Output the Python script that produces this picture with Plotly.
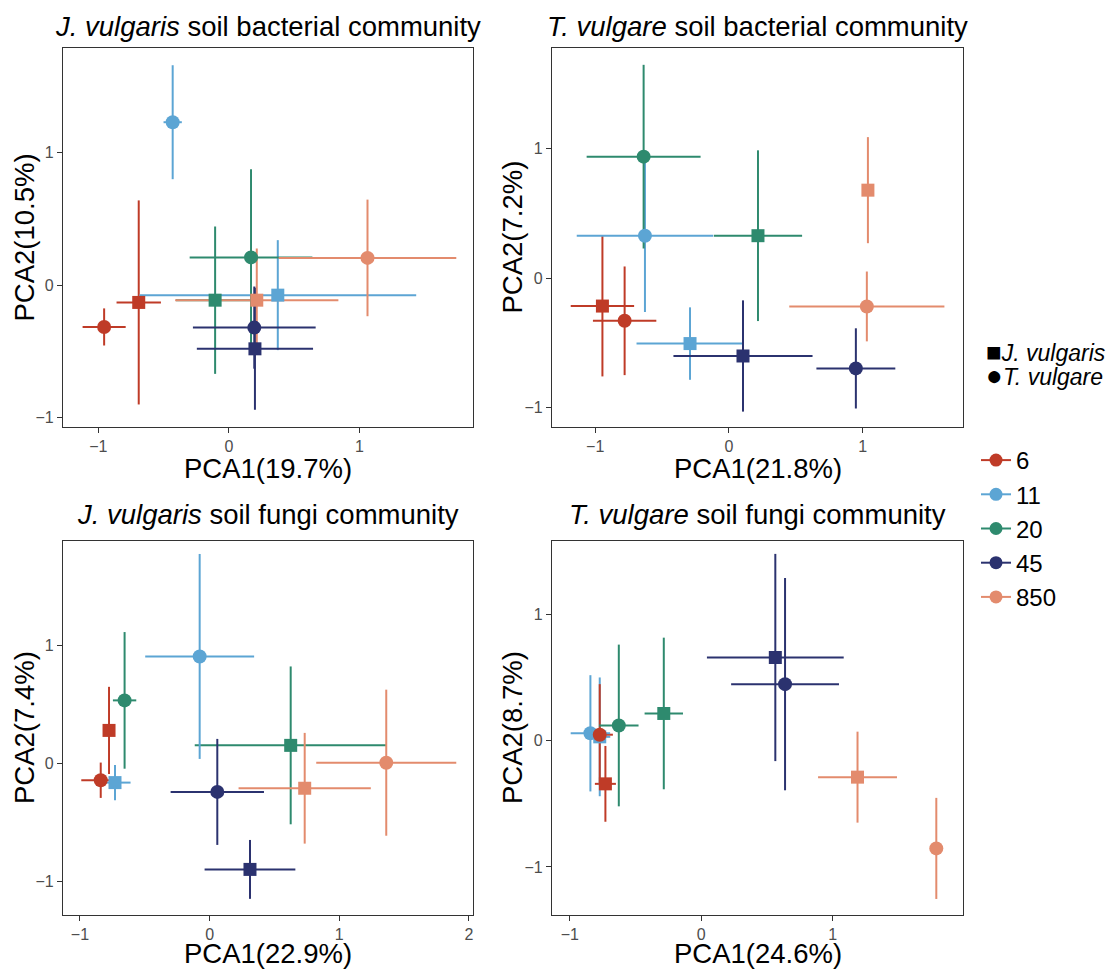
import plotly.graph_objects as go

FONT = "Liberation Sans, Arial, sans-serif"

groups = ["6", "11", "20", "45", "850"]
colors = ["#BF3B27", "#5CA5D4", "#2E8A6E", "#2B326F", "#E38B6D"]

titles = [
    "<i>J. vulgaris</i> soil bacterial community",
    "<i>T. vulgare</i> soil bacterial community",
    "<i>J. vulgaris</i> soil fungi community",
    "<i>T. vulgare</i> soil fungi community",
]
xlabels = ["PCA1(19.7%)", "PCA1(21.8%)", "PCA1(22.9%)", "PCA1(24.6%)"]
ylabels = ["PCA2(10.5%)", "PCA2(7.2%)", "PCA2(7.4%)", "PCA2(8.7%)"]

# ---- Panel 1: J. vulgaris soil bacterial community ----
p1_jv_x = [-0.69, 0.375, -0.105, 0.20, 0.214]
p1_jv_y = [-0.13, -0.075, -0.113, -0.48, -0.113]
p1_jv_xe = [0.17, 1.06, 0.30, 0.445, 0.625]
p1_jv_ye = [0.77, 0.415, 0.556, 0.46, 0.39]
p1_tv_x = [-0.955, -0.43, 0.17, 0.195, 1.062]
p1_tv_y = [-0.315, 1.23, 0.21, -0.32, 0.206]
p1_tv_xe = [0.165, 0.07, 0.47, 0.47, 0.68]
p1_tv_ye = [0.14, 0.43, 0.665, 0.31, 0.44]

# ---- Panel 2: T. vulgare soil bacterial community ----
p2_jv_x = [-0.946, -0.291, 0.217, 0.105, 1.039]
p2_jv_y = [-0.215, -0.505, 0.329, -0.601, 0.681]
p2_jv_xe = [0.237, 0.40, 0.33, 0.52, 0.03]
p2_jv_ye = [0.544, 0.28, 0.66, 0.43, 0.41]
p2_tv_x = [-0.78, -0.628, -0.638, 0.949, 1.031]
p2_tv_y = [-0.329, 0.329, 0.94, -0.697, -0.218]
p2_tv_xe = [0.237, 0.51, 0.426, 0.295, 0.58]
p2_tv_ye = [0.42, 0.59, 0.71, 0.31, 0.27]

# ---- Panel 3: J. vulgaris soil fungi community ----
p3_jv_x = [-0.776, -0.73, 0.625, 0.311, 0.733]
p3_jv_y = [0.282, -0.161, 0.155, -0.898, -0.209]
p3_jv_xe = [0.04, 0.12, 0.74, 0.35, 0.51]
p3_jv_ye = [0.37, 0.15, 0.67, 0.25, 0.47]
p3_tv_x = [-0.84, -0.077, -0.656, 0.059, 1.362]
p3_tv_y = [-0.141, 0.91, 0.537, -0.24, 0.008]
p3_tv_xe = [0.15, 0.42, 0.09, 0.36, 0.54]
p3_tv_ye = [0.15, 0.87, 0.58, 0.45, 0.62]

# ---- Panel 4: T. vulgare soil fungi community ----
p4_jv_x = [-0.729, -0.772, -0.285, 0.563, 1.188]
p4_jv_y = [-0.342, 0.03, 0.215, 0.658, -0.289]
p4_jv_xe = [0.08, 0.08, 0.146, 0.52, 0.30]
p4_jv_ye = [0.30, 0.47, 0.60, 0.82, 0.36]
p4_tv_x = [-0.772, -0.843, -0.627, 0.637, 1.787]
p4_tv_y = [0.047, 0.058, 0.12, 0.447, -0.853]
p4_tv_xe = [0.10, 0.15, 0.15, 0.41, 0.03]
p4_tv_ye = [0.40, 0.46, 0.64, 0.84, 0.40]

panels = [
    dict(jv=(p1_jv_x, p1_jv_y, p1_jv_xe, p1_jv_ye), tv=(p1_tv_x, p1_tv_y, p1_tv_xe, p1_tv_ye),
         xr=[-1.27, 1.87], yr=[-1.07, 1.79], dom_x=[63, 473], dom_y=[48, 427]),
    dict(jv=(p2_jv_x, p2_jv_y, p2_jv_xe, p2_jv_ye), tv=(p2_tv_x, p2_tv_y, p2_tv_xe, p2_tv_ye),
         xr=[-1.323, 1.75], yr=[-1.15, 1.78], dom_x=[552, 963], dom_y=[48, 427]),
    dict(jv=(p3_jv_x, p3_jv_y, p3_jv_xe, p3_jv_ye), tv=(p3_tv_x, p3_tv_y, p3_tv_xe, p3_tv_ye),
         xr=[-1.131, 2.031], yr=[-1.285, 1.89], dom_x=[63, 473], dom_y=[541, 915]),
    dict(jv=(p4_jv_x, p4_jv_y, p4_jv_xe, p4_jv_ye), tv=(p4_tv_x, p4_tv_y, p4_tv_xe, p4_tv_ye),
         xr=[-1.135, 1.99], yr=[-1.38, 1.58], dom_x=[552, 963], dom_y=[541, 915]),
]

W, H = 1112, 969
fig = go.Figure()

def axname(i, ax):
    return ax if i == 0 else f"{ax}{i+1}"

for i, p in enumerate(panels):
    xa, ya = axname(i, "x"), axname(i, "y")
    # error bars first (under all points)
    for key in ("jv", "tv"):
        xs, ys, xes, yes = p[key]
        for g in range(len(groups)):
            fig.add_trace(go.Scatter(
                x=[xs[g]], y=[ys[g]], mode="markers", xaxis=xa, yaxis=ya,
                marker=dict(size=1, color="rgba(0,0,0,0)"),
                error_x=dict(type="data", array=[xes[g]], color=colors[g], thickness=2, width=0),
                error_y=dict(type="data", array=[yes[g]], color=colors[g], thickness=2, width=0),
                showlegend=False, hoverinfo="skip"))
    # squares (J. vulgaris)
    xs, ys, _, _ = p["jv"]
    for g in range(len(groups)):
        fig.add_trace(go.Scatter(
            x=[xs[g]], y=[ys[g]], mode="markers", xaxis=xa, yaxis=ya,
            marker=dict(symbol="square", size=13, color=colors[g]),
            showlegend=False, name=groups[g]))
    # circles (T. vulgare)
    xs, ys, _, _ = p["tv"]
    for g in reversed(range(len(groups))):
        fig.add_trace(go.Scatter(
            x=[xs[g]], y=[ys[g]], mode="markers", xaxis=xa, yaxis=ya,
            marker=dict(symbol="circle", size=14, color=colors[g]),
            showlegend=False, name=groups[g]))

# colour legend entries
for g in range(len(groups)):
    fig.add_trace(go.Scatter(
        x=[None], y=[None], mode="lines+markers", name=groups[g],
        line=dict(color=colors[g], width=2),
        marker=dict(symbol="circle", size=13, color=colors[g]),
        legend="legend2", showlegend=True, xaxis="x", yaxis="y"))

layout = dict(
    width=W, height=H,
    margin=dict(l=0, r=0, t=0, b=0),
    paper_bgcolor="white", plot_bgcolor="white",
    font=dict(family=FONT, color="black"),
    showlegend=True,
    legend2=dict(x=976 / W, y=1 - 438 / H, xanchor="left", yanchor="top",
                 font=dict(size=24, family=FONT, color="black"),
                 bgcolor="rgba(0,0,0,0)", tracegroupgap=0, itemwidth=30),
)

annotations = []
for i, p in enumerate(panels):
    x0, x1 = p["dom_x"]
    y0, y1 = p["dom_y"]
    ax_common = dict(
        showline=True, mirror=True, linecolor="#333333", linewidth=1.2,
        ticks="outside", ticklen=5, tickwidth=1, tickcolor="#333333",
        tickfont=dict(size=16, color="#4D4D4D", family=FONT),
        showgrid=False, zeroline=False, dtick=1, tick0=0,
    )
    layout[axname(i, "xaxis")] = dict(ax_common, domain=[x0 / W, x1 / W], range=p["xr"],
                                      anchor=axname(i, "y"))
    layout[axname(i, "yaxis")] = dict(ax_common, domain=[1 - y1 / H, 1 - y0 / H], range=p["yr"],
                                      anchor=axname(i, "x"))
    cx = (x0 + x1) / 2
    cy = (y0 + y1) / 2
    top_row = i < 2
    annotations.append(dict(text=titles[i], x=cx / W, y=1 - (27 if top_row else 514) / H,
                            xref="paper", yref="paper", xanchor="center", yanchor="middle",
                            showarrow=False, font=dict(size=27.5, family=FONT, color="black")))
    annotations.append(dict(text=xlabels[i], x=cx / W, y=1 - (468 if top_row else 953) / H,
                            xref="paper", yref="paper", xanchor="center", yanchor="middle",
                            showarrow=False, font=dict(size=27.5, family=FONT, color="black")))
    annotations.append(dict(text=ylabels[i], x=(24 if i % 2 == 0 else 512) / W, y=1 - cy / H,
                            xref="paper", yref="paper", xanchor="center", yanchor="middle",
                            textangle=-90, showarrow=False,
                            font=dict(size=27.5, family=FONT, color="black")))

# species (shape) legend
species_labels = ["<span style='font-size:26px'>■</span><i>J. vulgaris</i>",
                  "<span style='font-size:28px'>●</span><i>T. vulgare</i>"]
species_y = [352, 376]
for lab, yy in zip(species_labels, species_y):
    annotations.append(dict(text=lab, x=984 / W, y=1 - yy / H, xref="paper", yref="paper",
                            xanchor="left", yanchor="middle", showarrow=False,
                            font=dict(size=23, family=FONT, color="black")))

layout["annotations"] = annotations
fig.update_layout(**layout)
fig.write_html("out.html")
